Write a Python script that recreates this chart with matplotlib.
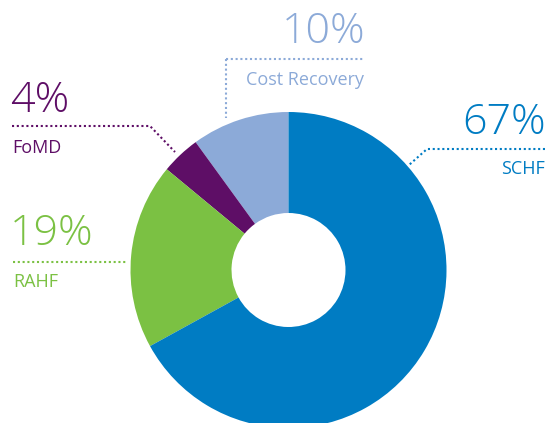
import matplotlib
matplotlib.use("Agg")
import matplotlib.pyplot as plt

# data (counter-clockwise from top)
categories = ["Cost Recovery", "FoMD", "RAHF", "SCHF"]
values = [10, 4, 19, 67]
pct_labels = ["10%", "4%", "19%", "67%"]
colors = ["#8CAAD8", "#5E0E66", "#7BC143", "#007CC3"]

W, H = 548, 423
fig = plt.figure(figsize=(W / 100, H / 100), dpi=100)
ax = fig.add_axes([0, 0, 1, 1])

def Y(y):
    return H - y

ax.pie(values, colors=colors, startangle=90, counterclock=True,
       center=(288.5, Y(270)), radius=158,
       wedgeprops=dict(width=158 - 57, edgecolor="none"))
ax.set_xlim(0, W)
ax.set_ylim(0, H)
ax.set_aspect("equal")
ax.axis("off")

big = dict(family=["Open Sans", "DejaVu Sans"], weight="light", fontsize=31)
small = dict(family=["Open Sans", "DejaVu Sans"], weight="normal", fontsize=13)
dot = dict(linestyle=(0, (1, 1.3)), linewidth=1.5)

# Cost Recovery
c = colors[0]
ax.text(365, Y(32), pct_labels[0], color=c, ha="right", va="center", **big)
ax.plot([226, 364], [Y(59), Y(59)], color=c, **dot)
ax.plot([226, 226], [Y(59), Y(118)], color=c, **dot)
ax.text(364, Y(80), categories[0], color=c, ha="right", va="center", **small)

# FoMD
c = colors[1]
ax.text(10, Y(101), pct_labels[1], color=c, ha="left", va="center", **big)
ax.plot([12, 150, 175], [Y(126), Y(126), Y(152)], color=c, **dot)
ax.text(12, Y(148), categories[1], color=c, ha="left", va="center", **small)

# RAHF
c = colors[2]
ax.text(10, Y(234), pct_labels[2], color=c, ha="left", va="center", **big)
ax.plot([13, 128], [Y(262), Y(262)], color=c, **dot)
ax.text(13, Y(282), categories[2], color=c, ha="left", va="center", **small)

# SCHF
c = colors[3]
ax.text(546, Y(123), pct_labels[3], color=c, ha="right", va="center", **big)
ax.plot([545, 427, 409], [Y(149), Y(149), Y(165)], color=c, **dot)
ax.text(545, Y(169), categories[3], color=c, ha="right", va="center", **small)

fig.savefig("out.png", dpi=100)
